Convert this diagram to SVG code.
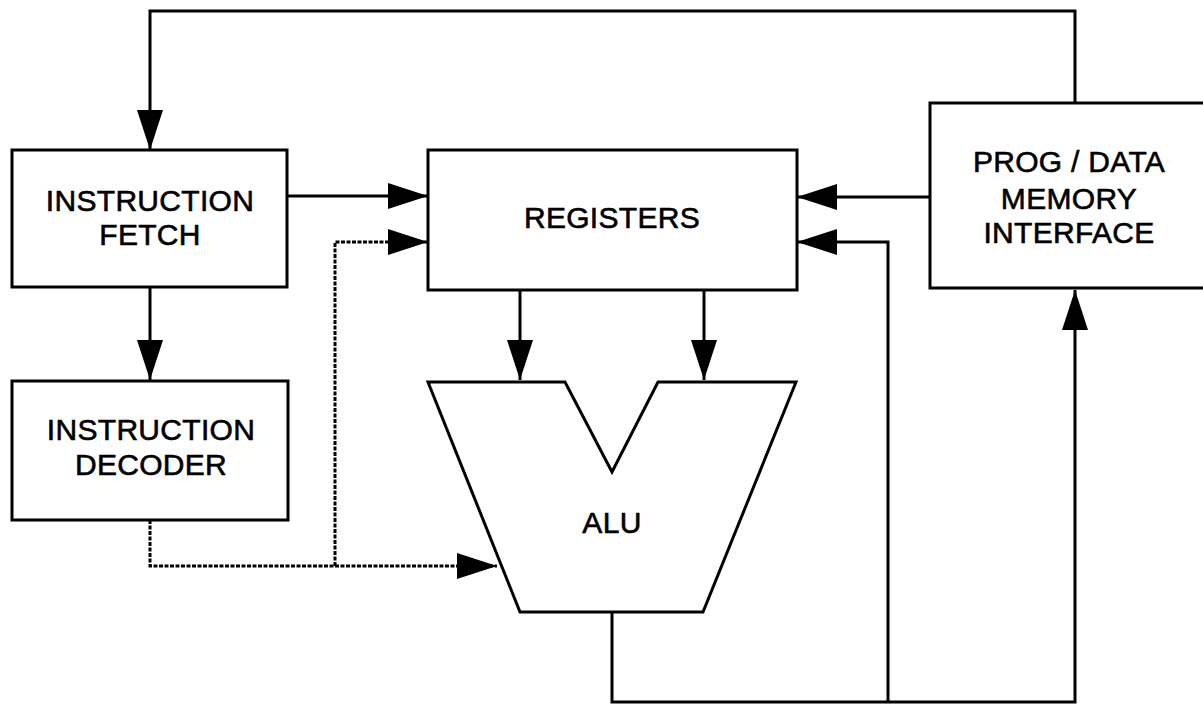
<svg xmlns="http://www.w3.org/2000/svg" width="1203" height="704" viewBox="0 0 1203 704">
<defs>
<style>
.box{fill:#fff;stroke:#000;stroke-width:3;stroke-linejoin:miter}
.lbl{font-family:"Liberation Sans",Arial,sans-serif;font-size:30px;fill:#000;stroke:#000;stroke-width:0.6;letter-spacing:0.3px;text-anchor:middle}
.wire{fill:none;stroke:#000;stroke-width:3}
.dash{fill:none;stroke:#000;stroke-width:3;stroke-dasharray:4 1.5}
</style>
<marker id="ah" markerUnits="userSpaceOnUse" markerWidth="40" markerHeight="26" refX="40" refY="13" orient="auto" viewBox="0 0 40 26">
<path d="M0,0 L40,13 L0,26 Z" fill="#000"/>
</marker>
</defs>
<rect width="1203" height="704" fill="#fff"/>
<g id="connectors">
<path class="wire" d="M1075,103 V11 H150 V150" marker-end="url(#ah)"/>
<path class="wire" d="M287,196 H428" marker-end="url(#ah)"/>
<path class="wire" d="M150,287 V380" marker-end="url(#ah)"/>
<path class="wire" d="M930,197 H797" marker-end="url(#ah)"/>
<path class="wire" d="M520,290 V380" marker-end="url(#ah)"/>
<path class="wire" d="M704,290 V380" marker-end="url(#ah)"/>
<path class="wire" d="M612,612 V702 H1075 V290" marker-end="url(#ah)"/>
<path class="wire" d="M888,702 V242 H797" marker-end="url(#ah)"/>
<path class="dash" d="M150,520 V566 H497" marker-end="url(#ah)"/>
<path class="dash" d="M335,566 V242 H428" marker-end="url(#ah)"/>
</g>
<g id="fetch">
<rect class="box" x="12" y="150" width="275" height="137"/>
<text class="lbl" x="150" y="211">INSTRUCTION</text>
<text class="lbl" x="150" y="245">FETCH</text>
</g>
<g id="decoder">
<rect class="box" x="12" y="381" width="276" height="139"/>
<text class="lbl" x="151" y="440">INSTRUCTION</text>
<text class="lbl" x="151" y="475">DECODER</text>
</g>
<g id="registers">
<rect class="box" x="428" y="150" width="369" height="140"/>
<text class="lbl" x="612" y="228">REGISTERS</text>
</g>
<g id="memory">
<rect class="box" x="930" y="103" width="300" height="185"/>
<text class="lbl" x="1069" y="172">PROG / DATA</text>
<text class="lbl" x="1069" y="209">MEMORY</text>
<text class="lbl" x="1069" y="243">INTERFACE</text>
</g>
<g id="alu">
<path class="box" d="M428,382 H565 L612,472 L658,382 H796 L703,612 H520 Z"/>
<text class="lbl" x="612" y="533">ALU</text>
</g>
</svg>
